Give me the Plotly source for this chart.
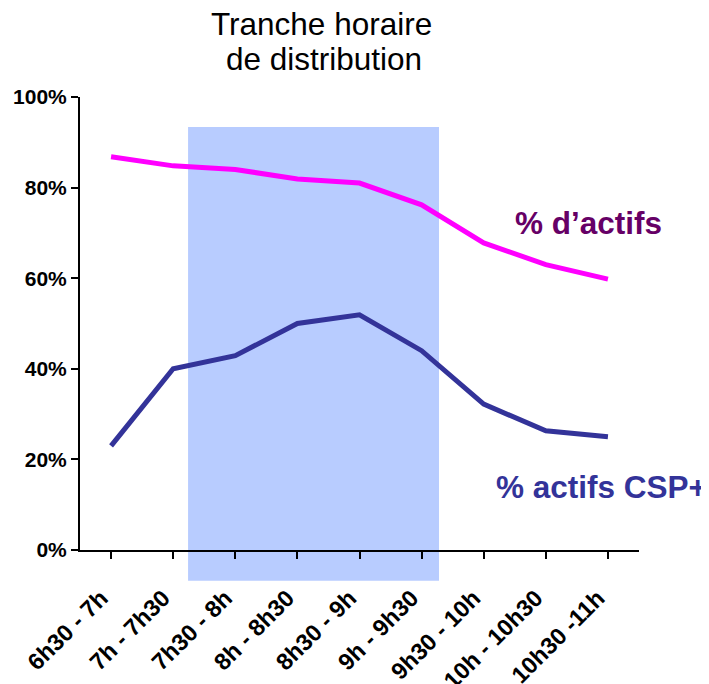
import plotly.graph_objects as go

categories = ["6h30 - 7h", "7h - 7h30", "7h30 - 8h", "8h - 8h30", "8h30 - 9h",
              "9h - 9h30", "9h30 - 10h", "10h - 10h30", "10h30 -11h"]
pct_actifs = [86.8, 84.8, 84.0, 81.9, 81.0, 76.2, 67.8, 63.0, 59.8]
pct_csp = [23.0, 40.0, 42.9, 50.0, 51.9, 44.0, 32.2, 26.3, 25.0]
y_ticks = [0, 20, 40, 60, 80, 100]

FONT = "Liberation Sans, Arial, sans-serif"
x_idx = list(range(len(categories)))

fig = go.Figure()
fig.add_trace(go.Scatter(x=x_idx, y=pct_actifs, mode="lines",
                         line=dict(color="#FF00FF", width=5), showlegend=False))
fig.add_trace(go.Scatter(x=x_idx, y=pct_csp, mode="lines",
                         line=dict(color="#333399", width=5), showlegend=False))

# highlighted time band
fig.add_shape(type="rect", xref="x", yref="paper", x0=1.24, x1=5.28,
              y0=-0.068, y1=0.934, fillcolor="#B8CCFF", line=dict(width=0),
              layer="below")

fig.add_annotation(x=0.432, y=1.161, xref="paper", yref="paper",
                   text="Tranche horaire", showarrow=False,
                   xanchor="center", yanchor="middle",
                   font=dict(family=FONT, size=31.5, color="black"))
fig.add_annotation(x=0.4365, y=1.084, xref="paper", yref="paper",
                   text="de distribution", showarrow=False,
                   xanchor="center", yanchor="middle",
                   font=dict(family=FONT, size=31.5, color="black"))
fig.add_annotation(x=7.68, y=72.2, xref="x", yref="y", text="<b>% d’actifs</b>",
                   showarrow=False, font=dict(family=FONT, size=31.5, color="#660066"))
fig.add_annotation(x=7.9, y=13.9, xref="x", yref="y", text="<b>% actifs CSP+</b>",
                   showarrow=False, font=dict(family=FONT, size=31.5, color="#333399"))

fig.update_layout(
    width=701, height=676,
    margin=dict(l=72, r=70, t=89, b=134),
    paper_bgcolor="white", plot_bgcolor="white",
    font=dict(family=FONT, color="black"),
)
fig.update_xaxes(range=[-0.5, 8.5], tickmode="array", tickvals=x_idx,
                 ticktext=[f"<b>{c}</b>" for c in categories], tickangle=-45,
                 ticks="outside", tickson="boundaries", ticklen=7, tickwidth=2,
                 tickcolor="black", showline=True, linecolor="black", linewidth=2,
                 showgrid=False, zeroline=False, automargin=False,
                 ticklabelstandoff=16, ticklabelshift=-10,
                 tickfont=dict(family=FONT, size=23.5, color="black"))
fig.update_yaxes(range=[0, 100], tickmode="array", tickvals=y_ticks,
                 ticktext=[f"<b>{v}%</b>" for v in y_ticks],
                 ticks="outside", ticklen=7, tickwidth=2, tickcolor="black",
                 showline=True, linecolor="black", linewidth=2,
                 showgrid=False, zeroline=False, automargin=False,
                 tickfont=dict(family=FONT, size=21, color="black"))

fig.write_html("out.html")
